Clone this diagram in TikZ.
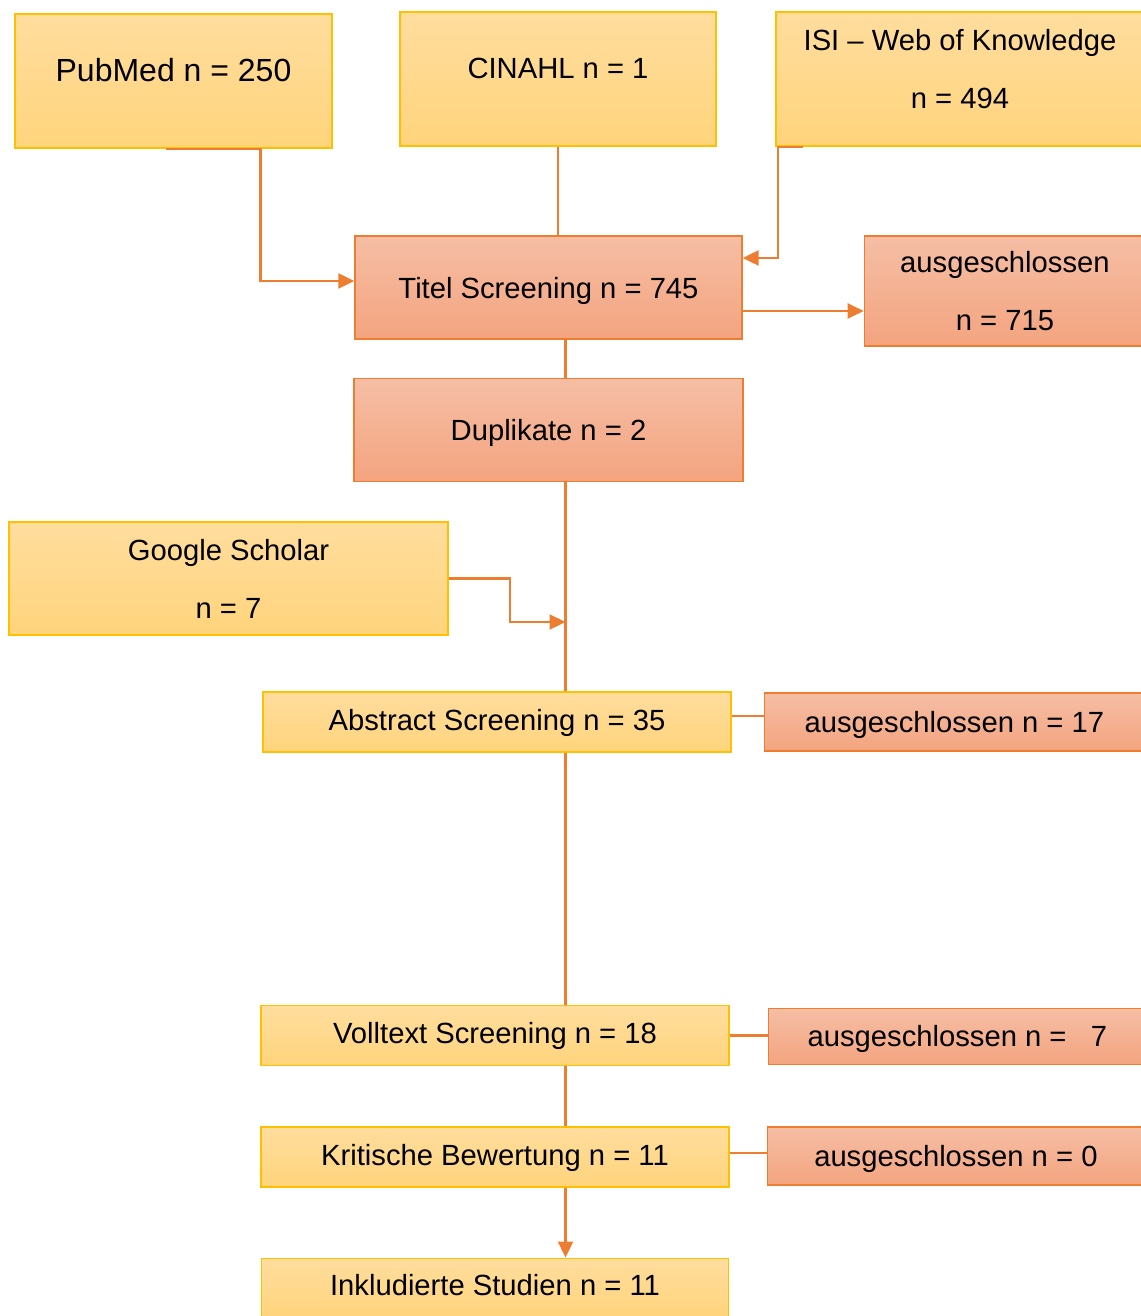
\documentclass[tikz,border=0pt]{standalone}
\usepackage{fontspec}
\setmainfont{Liberation Sans}
\usepackage{tikz}
\usetikzlibrary{arrows.meta,positioning}

\definecolor{gold}{HTML}{FFC000}
\definecolor{ylwtop}{HTML}{FFDD9E}
\definecolor{ylwbot}{HTML}{FFD47C}
\definecolor{accent}{HTML}{ED7D31}
\definecolor{redtop}{HTML}{F5BEA5}
\definecolor{redbot}{HTML}{F4A47F}

\begin{document}
\begin{tikzpicture}[
    x=0.5pt, y=-0.5pt,
    box/.style={rectangle, draw=gold, line width=0.7pt, top color=ylwtop, bottom color=ylwbot, inner sep=0pt, align=center, font=\fontsize{14.6}{29}\selectfont, text height=10.5pt, text depth=2pt},
    twolines/.style={text height=39.5pt, text depth=0pt},
    outbox/.style={box, draw=accent, top color=redtop, bottom color=redbot, text depth=0pt},
    line/.style={accent, line width=1.15pt},
    arrow/.style={line, -{Triangle[length=8pt,width=7.5pt]}}
]
\useasboundingbox (0,0) rectangle (1140,1316);

% Databases
\node[box, minimum width=158.5pt, minimum height=67pt, font=\fontsize{16}{29}\selectfont, text height=11.5pt, text depth=11pt] (pubmed) at (173.5,81) {PubMed n = 250};
\node[box, minimum width=158pt, minimum height=67pt, text depth=11pt] (cinahl) at (558,79) {CINAHL n = 1};
\node[box, twolines, minimum width=184pt, minimum height=67pt, text depth=10pt] (isi) at (960,79) {ISI -- Web of Knowledge\\n = 494};

% Title screening
\node[outbox, minimum width=193.5pt, minimum height=51.5pt] (titel) at (548.5,287.5) {Titel Screening n = 745};
\node[outbox, twolines, minimum width=140.5pt, minimum height=55pt, right=60.5pt of titel, yshift=-1.75pt] (aus1) {ausgeschlossen\\n = 715};
\node[outbox, minimum width=194.5pt, minimum height=51.5pt, below=19pt of titel] (dupl) {Duplikate n = 2};

% Other sources
\node[box, twolines, minimum width=219.5pt, minimum height=56.5pt] (google) at (228.5,578.5) {Google Scholar\\n = 7};
\coordinate (join) at (565.5,622);

% Screening steps
\node[box, minimum width=234pt, minimum height=30pt] (abstract) at (497,722) {Abstract Screening n = 35};
\node[outbox, minimum width=190pt, minimum height=29pt, right=16pt of abstract] (aus2) {ausgeschlossen n = 17};
\node[box, minimum width=234pt, minimum height=30pt, below=126pt of abstract, xshift=-1pt] (volltext) {Volltext Screening n = 18};
\node[outbox, minimum width=189pt, minimum height=28pt, right=19pt of volltext, yshift=-0.5pt] (aus3) {ausgeschlossen n =\ \ \ 7};
\node[box, minimum width=234pt, minimum height=30pt, below=30pt of volltext] (kritisch) {Kritische Bewertung n = 11};
\node[outbox, minimum width=188.5pt, minimum height=29pt, right=18.5pt of kritisch, yshift=0.5pt] (aus4) {ausgeschlossen n = 0};
\node[box, minimum width=233.5pt, minimum height=29pt, below=35pt of kritisch] (inkl) {Inkludierte Studien n = 11};

% Connectors
\draw[arrow] ([xshift=-4pt]pubmed.south) -- ++(95,0) |- ([yshift=3.25pt]titel.west);
\draw[line] (cinahl.south) -- (cinahl.south |- titel.north);
\draw[arrow] ([xshift=14pt]isi.south west) -- ++(-25,0) |- ([yshift=14.75pt]titel.east);
\draw[arrow] ([yshift=-11.75pt]titel.east) -- ([yshift=-10pt]aus1.west);
\draw[line] (titel.south -| join) -- (join |- dupl.north);
\draw[line] (dupl.south -| join) -- (join) -- (join |- abstract.north);
\draw[arrow] (google.east) -- ++(61,0) |- (join);

\draw[line] ([yshift=3pt]abstract.east) -- ([yshift=3pt]abstract.east -| aus2.west);
\draw[line] (abstract.south -| join) -- (join |- volltext.north);
\draw[line] (volltext.east) -- (volltext.east -| aus3.west);
\draw[line] (volltext.south -| join) -- (join |- kritisch.north);
\draw[line] ([yshift=2pt]kritisch.east) -- ([yshift=2pt]kritisch.east -| aus4.west);
\draw[arrow] (kritisch.south -| join) -- (join |- inkl.north);

\end{tikzpicture}
\end{document}
